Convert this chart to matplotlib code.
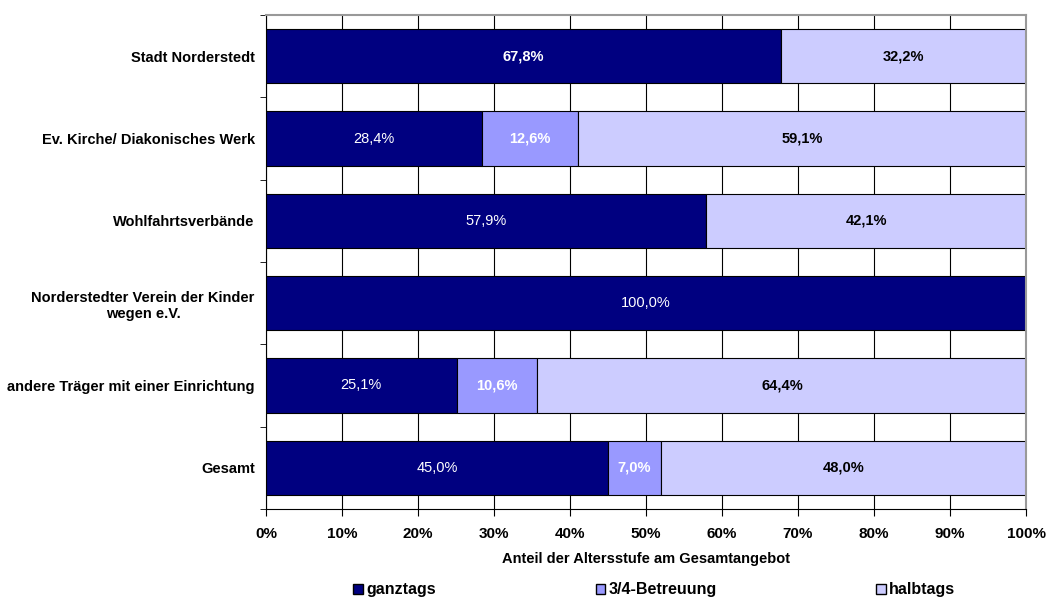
import matplotlib.pyplot as plt
import numpy as np
from matplotlib.patches import Patch
from matplotlib.ticker import FixedLocator

plt.rcParams['font.family'] = ['Liberation Sans', 'DejaVu Sans']

categories = [
    "Stadt Norderstedt",
    "Ev. Kirche/ Diakonisches Werk",
    "Wohlfahrtsverbände",
    "Norderstedter Verein der Kinder\nwegen e.V.",
    "andere Träger mit einer Einrichtung",
    "Gesamt",
]
ganztags = [67.8, 28.4, 57.9, 100.0, 25.1, 45.0]
dreiviertel = [0.0, 12.6, 0.0, 0.0, 10.6, 7.0]
halbtags = [32.2, 59.1, 42.1, 0.0, 64.4, 48.0]
ganztags_bold = [True, False, False, False, False, False]

series = [
    ("ganztags", ganztags, "#000080"),
    ("3/4-Betreuung", dreiviertel, "#9999FF"),
    ("halbtags", halbtags, "#CCCCFF"),
]

fig = plt.figure(figsize=(10.47, 6.03), dpi=100)
ax = fig.add_axes([0.254, 0.156, 0.726, 0.819])

y = np.arange(len(categories))
left = np.zeros(len(categories))
for name, vals, color in series:
    vals = np.array(vals)
    ax.barh(y, vals, left=left, height=0.66, color=color, edgecolor="black",
            linewidth=0.8, zorder=2)
    for i, v in enumerate(vals):
        if v <= 0:
            continue
        if name == "ganztags":
            txt_color, weight = "white", ("bold" if ganztags_bold[i] else "normal")
        elif name == "3/4-Betreuung":
            txt_color, weight = "white", "bold"
        else:
            txt_color, weight = "black", "bold"
        ax.text(left[i] + v / 2, i, f"{v:.1f}%".replace(".", ","),
                ha="center", va="center", color=txt_color, fontsize=10.5,
                fontweight=weight, zorder=3)
    left += vals

ax.set_xlim(0, 100)
ax.set_ylim(len(categories) - 0.5, -0.5)
ax.set_xticks(np.arange(0, 101, 10))
ax.set_xticklabels([f"{t}%" for t in range(0, 101, 10)], fontsize=11, fontweight="bold")
ax.tick_params(axis="x", direction="out", length=5, pad=8)

ax.set_yticks(y)
ax.set_yticklabels(categories, fontsize=10.5, fontweight="bold", ha="right",
                   multialignment="center")
ax.tick_params(axis="y", which="major", length=0, pad=8)
ax.yaxis.set_minor_locator(FixedLocator(np.arange(-0.5, len(categories), 1.0)))
ax.tick_params(axis="y", which="minor", direction="out", length=4)

ax.grid(axis="x", color="black", linewidth=0.8, zorder=0)
ax.set_axisbelow(True)
for side in ("top", "right"):
    ax.spines[side].set_color("#999999")
    ax.spines[side].set_linewidth(1.5)
for side in ("left", "bottom"):
    ax.spines[side].set_color("black")

ax.set_xlabel("Anteil der Altersstufe am Gesamtangebot", fontsize=10.5,
              fontweight="bold", labelpad=8)

handles = [Patch(facecolor=c, edgecolor="black", label=n) for n, _, c in series]
fig.legend(handles=handles, loc="center", bbox_to_anchor=(0.625, 0.022), ncol=3,
           frameon=False, prop={"size": 11.5, "weight": "bold"},
           handlelength=0.6, handleheight=0.6, handletextpad=0.2,
           columnspacing=10, borderaxespad=0, borderpad=0)

fig.savefig("out.png", dpi=100)
